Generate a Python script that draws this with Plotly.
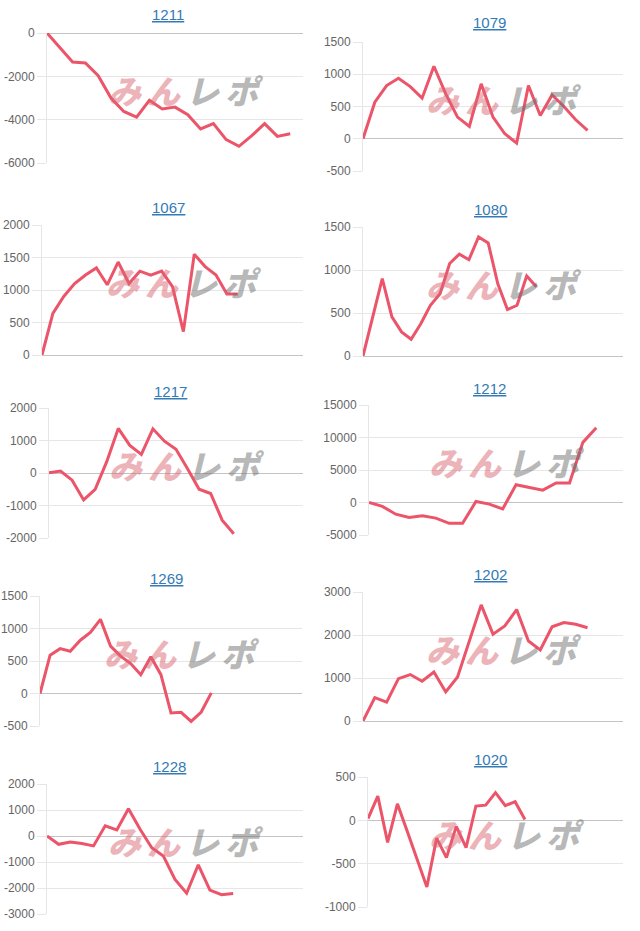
import plotly.graph_objects as go

# ---------------- data ----------------
titles = ["1211", "1079", "1067", "1080", "1217", "1212", "1269", "1202", "1228", "1020"]

s1211 = [0, -670, -1340, -1380, -1970, -3000, -3620, -3880, -3110, -3510,
         -3420, -3770, -4430, -4180, -4920, -5230, -4740, -4180, -4770, -4650]
s1079 = [0, 567, 825, 938, 809, 629, 1124, 696, 335, 191,
         851, 335, 77, -67, 825, 361, 680, 500, 294, 129]
s1067 = [0, 640, 900, 1100, 1230, 1340, 1080, 1430, 1100, 1290,
         1230, 1290, 1050, 360, 1550, 1360, 1230, 940, 940]
s1080 = [0, 455, 900, 455, 280, 195, 375, 590, 725, 1075,
         1185, 1120, 1385, 1315, 840, 540, 590, 930, 805]
s1217 = [10, 60, -220, -830, -500, 350, 1370, 850, 570, 1360,
         980, 730, 130, -500, -630, -1450, -1870]
s1212 = [0, -600, -1800, -2300, -2050, -2400, -3200, -3200, 150, -250,
         -1000, 2730, 2300, 1900, 3000, 3000, 9250, 11500]
s1269 = [0, 590, 690, 650, 820, 940, 1140, 730, 575, 460,
         290, 565, 290, -300, -290, -430, -285, 10]
s1202 = [0, 545, 440, 985, 1080, 925, 1140, 675, 1025, 1850,
         2700, 2020, 2210, 2590, 1860, 1650, 2190, 2290, 2250, 2170]
s1228 = [0, -320, -230, -290, -380, 390, 230, 1050, 260, -450,
         -770, -1670, -2200, -1110, -2080, -2260, -2210]
s1020 = [20, 280, -255, 190, -125, -445, -770, -205, -430, -70,
         -315, 165, 175, 320, 170, 215, 10]

series = [s1211, s1079, s1067, s1080, s1217, s1212, s1269, s1202, s1228, s1020]

# number of category slots on each x axis
slots = [21, 23, 25, 28, 23, 20, 27, 23, 23, 27]

y_ticks = [
    [-6000, -4000, -2000, 0],
    [-500, 0, 500, 1000, 1500],
    [0, 500, 1000, 1500, 2000],
    [0, 500, 1000, 1500],
    [-2000, -1000, 0, 1000, 2000],
    [-5000, 0, 5000, 10000, 15000],
    [-500, 0, 500, 1000, 1500],
    [0, 1000, 2000, 3000],
    [-3000, -2000, -1000, 0, 1000, 2000],
    [-1000, -500, 0, 500],
]

# ---------------- layout (pixel boxes) ----------------
W, H = 640, 931
plot_boxes = [  # x0, x1, y0(top), y1(bottom) in px
    (47, 303, 33, 163),
    (363, 623, 42, 171),
    (42, 303, 225, 355),
    (363, 623, 227, 356),
    (49, 303, 408, 538),
    (369, 623, 405, 535),
    (40, 302, 596, 726),
    (363, 623, 592, 721),
    (47, 303, 784, 914),
    (368, 623, 777, 907),
]
title_pos = [  # x center, y center in px
    (168, 15), (489, 22), (168, 208), (490, 209), (170, 391),
    (489, 388), (166, 578), (490, 574), (169, 766), (490, 759),
]

LINE = "#ec5469"
GRID = "#e6e6e6"
ZERO = "#c4c4c4"
TICKF = dict(family="Liberation Sans, Arial, sans-serif", size=12, color="#666666")
WM_TEXT = ("<span style='color:rgba(217,103,115,0.5);letter-spacing:6px'>みん</span>"
           "<span style='color:rgba(113,113,113,0.5);letter-spacing:6px'>レポ</span>")

fig = go.Figure()
layout = dict(
    width=W, height=H, autosize=False,
    margin=dict(l=0, r=0, t=0, b=0, pad=0, autoexpand=False),
    paper_bgcolor="white", plot_bgcolor="white",
    showlegend=False,
    annotations=[],
)

for i, (name, vals) in enumerate(zip(titles, series)):
    k = "" if i == 0 else str(i + 1)
    x0, x1, y0, y1 = plot_boxes[i]
    xd = [x0 / W, x1 / W]
    yd = [1 - y1 / H, 1 - y0 / H]
    ticks = y_ticks[i]
    layout["xaxis" + k] = dict(
        domain=xd, anchor="y" + k, range=[0, slots[i] - 1],
        showgrid=False, zeroline=False, showline=False,
        showticklabels=False, ticks="", fixedrange=True, automargin=False,
    )
    layout["yaxis" + k] = dict(
        domain=yd, anchor="x" + k, range=[min(ticks), max(ticks)],
        tickmode="array", tickvals=ticks, ticktext=[str(t) for t in ticks],
        showgrid=True, gridcolor=GRID, gridwidth=1,
        zeroline=True, zerolinecolor=ZERO, zerolinewidth=1,
        showline=True, linecolor=GRID, linewidth=1,
        ticks="outside", ticklen=9, tickcolor=GRID, tickwidth=1,
        tickfont=TICKF, fixedrange=True, automargin=False,
    )
    fig.add_trace(go.Scatter(
        x=list(range(len(vals))), y=vals, mode="lines",
        line=dict(color=LINE, width=3), xaxis="x" + k, yaxis="y" + k,
        hoverinfo="skip",
    ))
    tx, ty = title_pos[i]
    layout["annotations"].append(dict(
        text="<u>" + name + "</u>", x=tx / W, y=1 - ty / H,
        xref="paper", yref="paper", xanchor="center", yanchor="middle",
        showarrow=False,
        font=dict(family="Liberation Sans, Arial, sans-serif", size=15, color="#337ab7"),
    ))
    # watermark
    cxp = (x0 + x1) / 2 + 11
    cyp = (y0 + y1) / 2 - 8
    layout["annotations"].append(dict(
        text=WM_TEXT, x=cxp / W, y=1 - cyp / H,
        xref="paper", yref="paper", xanchor="center", yanchor="middle",
        showarrow=False,
        font=dict(family="Noto Sans CJK JP", size=33, weight=900, style="italic"),
    ))

fig.update_layout(**layout)
fig.write_html("out.html")
